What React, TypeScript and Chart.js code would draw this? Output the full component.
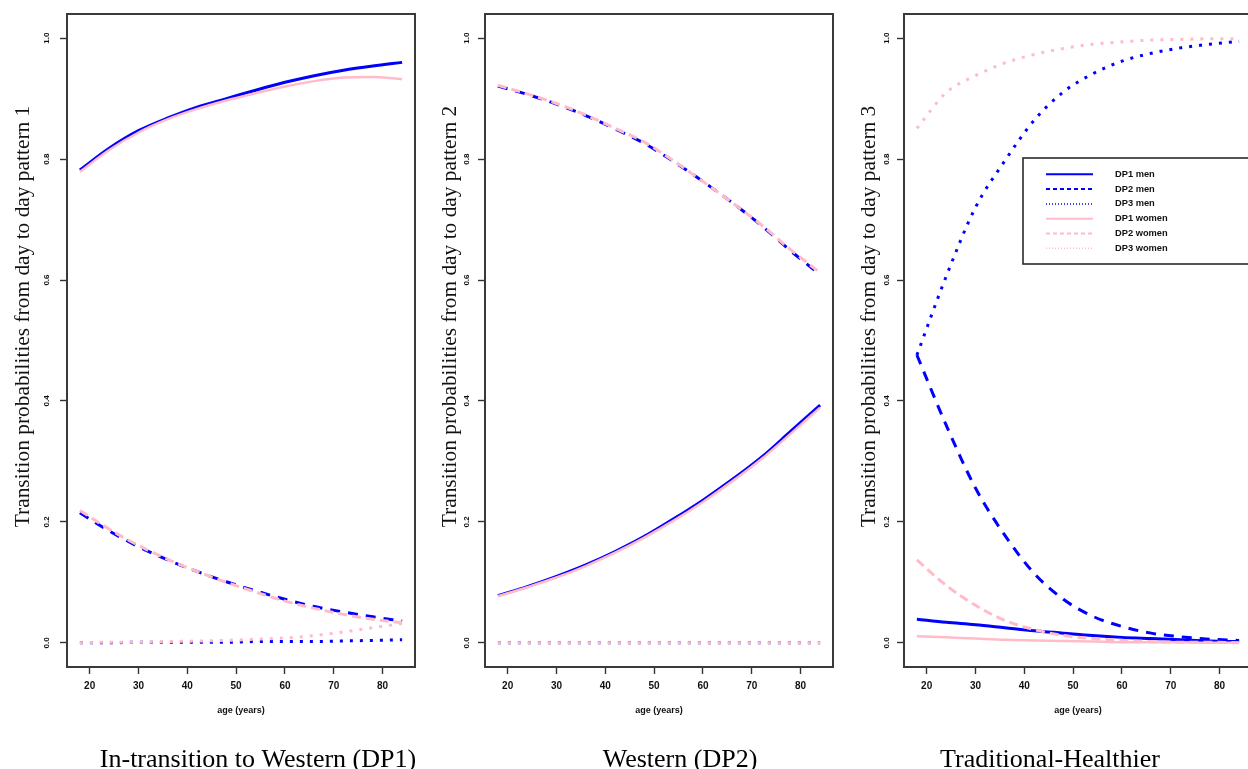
import React, { useEffect, useRef } from "react";
import { Chart, registerables } from "chart.js";

Chart.register(...registerables);

// ---------- data ----------
const ages = [18, 24, 30, 36, 42, 48, 54, 60, 66, 72, 78, 84];
const xTicks = [20, 30, 40, 50, 60, 70, 80];
const yTicks = [0, 0.2, 0.4, 0.6, 0.8, 1.0];
const seriesLabels = ["DP1 men", "DP2 men", "DP3 men", "DP1 women", "DP2 women", "DP3 women"];
const panelTitles = ["In-transition to Western (DP1)", "Western (DP2)", "Traditional-Healthier"];
const yTitles = [
  "Transition probabilities from day to day pattern 1",
  "Transition probabilities from day to day pattern 2",
  "Transition probabilities from day to day pattern 3",
];
const xTitle = "age (years)";

// Panel 1: transitions to day pattern 1
const p1MenDP1 = [0.782, 0.818, 0.847, 0.868, 0.886, 0.9, 0.914, 0.927, 0.938, 0.947, 0.954, 0.96];
const p1MenDP2 = [0.215, 0.185, 0.159, 0.137, 0.118, 0.101, 0.086, 0.072, 0.06, 0.051, 0.043, 0.036];
const p1MenDP3 = [0.0, 0.0, 0.001, 0.001, 0.001, 0.001, 0.002, 0.002, 0.002, 0.003, 0.004, 0.005];
const p1WomenDP1 = [0.779, 0.815, 0.844, 0.866, 0.883, 0.897, 0.909, 0.92, 0.929, 0.935, 0.936, 0.932];
const p1WomenDP2 = [0.219, 0.188, 0.161, 0.138, 0.118, 0.1, 0.084, 0.069, 0.057, 0.047, 0.039, 0.033];
const p1WomenDP3 = [0.0, 0.001, 0.001, 0.002, 0.003, 0.004, 0.006, 0.008, 0.012, 0.018, 0.025, 0.032];

// Panel 2: transitions to day pattern 2
const p2MenDP1 = [0.078, 0.093, 0.11, 0.129, 0.151, 0.176, 0.205, 0.236, 0.27, 0.307, 0.35, 0.393];
const p2MenDP2 = [0.921, 0.907, 0.891, 0.872, 0.85, 0.826, 0.796, 0.763, 0.728, 0.69, 0.648, 0.609];
const p2MenDP3 = [0, 0, 0, 0, 0, 0, 0, 0, 0, 0, 0, 0];
const p2WomenDP1 = [0.077, 0.092, 0.108, 0.127, 0.149, 0.174, 0.202, 0.233, 0.267, 0.304, 0.346, 0.389];
const p2WomenDP2 = [0.922, 0.908, 0.892, 0.873, 0.851, 0.828, 0.797, 0.763, 0.728, 0.691, 0.65, 0.612];
const p2WomenDP3 = [0, 0, 0, 0, 0, 0, 0, 0, 0, 0, 0, 0];

// Panel 3: transitions to day pattern 3
const p3MenDP1 = [0.039, 0.034, 0.03, 0.025, 0.02, 0.016, 0.012, 0.009, 0.007, 0.005, 0.003, 0.002];
const p3MenDP2 = [0.476, 0.36, 0.256, 0.178, 0.115, 0.072, 0.044, 0.027, 0.016, 0.01, 0.006, 0.004];
const p3MenDP3 = [0.476, 0.606, 0.72, 0.797, 0.864, 0.911, 0.941, 0.962, 0.975, 0.984, 0.99, 0.995];
const p3WomenDP1 = [0.011, 0.009, 0.007, 0.005, 0.004, 0.003, 0.002, 0.001, 0.001, 0.001, 0.0, 0.0];
const p3WomenDP2 = [0.137, 0.095, 0.062, 0.037, 0.022, 0.012, 0.007, 0.004, 0.002, 0.001, 0.001, 0.0];
const p3WomenDP3 = [0.851, 0.91, 0.938, 0.959, 0.973, 0.983, 0.99, 0.994, 0.997, 0.998, 0.999, 0.999];

const panelSeries = [
  [p1MenDP1, p1MenDP2, p1MenDP3, p1WomenDP1, p1WomenDP2, p1WomenDP3],
  [p2MenDP1, p2MenDP2, p2MenDP3, p2WomenDP1, p2WomenDP2, p2WomenDP3],
  [p3MenDP1, p3MenDP2, p3MenDP3, p3WomenDP1, p3WomenDP2, p3WomenDP3],
];

// ---------- styles & layout ----------
const BLUE = "#0000ff";
const PINK = "#ffbcc8";
const seriesColors = [BLUE, BLUE, BLUE, PINK, PINK, PINK];
const seriesWidths = [3, 3, 3, 2.5, 3, 3];
const seriesDash = [[], [10, 8], [3, 7], [], [9, 5], [3, 7]];
const legendDash = [[], [4, 3], [1, 2], [], [4, 3], [1, 2]];
const legendWidths = [2, 2, 1.5, 2, 2, 1.5];

const CANVAS_W = 420;
const CANVAS_H = 769;
const AREA_TOP = 14;
const X_AXIS_H = 102;
const layouts = [
  { left: 0, yWidth: 67, padRight: 5, yTitleX: 23, yTickX: 47, titleX: 258 },
  { left: 420, yWidth: 65, padRight: 7, yTitleX: 30, yTickX: 47, titleX: 260 },
  { left: 840, yWidth: 64, padRight: 8, yTitleX: 29, yTickX: 47, titleX: 210 },
];

const SANS = "'Liberation Sans', Arial, sans-serif";
const SERIF = "'Liberation Serif', 'Times New Roman', serif";

function makeDecorPlugin(panel: number) {
  const lay = layouts[panel];
  return {
    id: "decor" + panel,
    afterDraw(chart: any) {
      const { ctx, chartArea, scales } = chart;
      const ys = scales.y;
      ctx.save();
      // box
      ctx.strokeStyle = "#3a3a3a";
      ctx.lineWidth = 2;
      ctx.setLineDash([]);
      ctx.strokeRect(chartArea.left, chartArea.top, chartArea.right - chartArea.left, chartArea.bottom - chartArea.top);

      // y tick labels (rotated, like R)
      ctx.fillStyle = "#111";
      ctx.font = "bold 8px " + SANS;
      ctx.textAlign = "center";
      ctx.textBaseline = "middle";
      yTicks.forEach((v) => {
        const py = ys.getPixelForValue(v);
        ctx.save();
        ctx.translate(lay.yTickX, py);
        ctx.rotate(-Math.PI / 2);
        ctx.fillText(v.toFixed(1), 0, 0);
        ctx.restore();
      });

      // y title
      ctx.save();
      ctx.font = "21.4px " + SERIF;
      ctx.fillStyle = "#111";
      ctx.translate(lay.yTitleX, chartArea.top + 302.5);
      ctx.rotate(-Math.PI / 2);
      ctx.fillText(yTitles[panel], 0, 0);
      ctx.restore();

      // panel caption
      ctx.font = "26px " + SERIF;
      ctx.fillStyle = "#000";
      ctx.textAlign = "center";
      ctx.textBaseline = "alphabetic";
      ctx.fillText(panelTitles[panel], lay.titleX, 767);

      // legend (third panel)
      if (panel === 2) {
        const bx = chartArea.left + 119;
        const by = 158;
        const bh = 106;
        ctx.fillStyle = "#fff";
        ctx.fillRect(bx, by, chart.width + 20 - bx, bh);
        ctx.strokeStyle = "#2a2a2a";
        ctx.lineWidth = 1.6;
        ctx.strokeRect(bx, by, chart.width + 20 - bx, bh);
        ctx.font = "bold 9.3px " + SANS;
        ctx.textAlign = "left";
        ctx.textBaseline = "middle";
        seriesLabels.forEach((lab, i) => {
          const ry = by + 16.3 + i * 14.8;
          ctx.beginPath();
          ctx.strokeStyle = seriesColors[i];
          ctx.lineWidth = legendWidths[i];
          ctx.setLineDash(legendDash[i]);
          ctx.moveTo(bx + 23, ry);
          ctx.lineTo(bx + 70, ry);
          ctx.stroke();
          ctx.setLineDash([]);
          ctx.fillStyle = "#111";
          ctx.fillText(lab, bx + 92, ry);
        });
      }
      ctx.restore();
    },
  };
}

function Panel({ index }: { index: number }) {
  const ref = useRef<HTMLCanvasElement | null>(null);
  useEffect(() => {
    const lay = layouts[index];
    const series = panelSeries[index];
    const datasets = series.map((vals, i) => ({
      label: seriesLabels[i],
      data: ages.map((a, k) => ({ x: a, y: vals[k] })),
      borderColor: seriesColors[i],
      backgroundColor: seriesColors[i],
      borderWidth: seriesWidths[i],
      borderDash: seriesDash[i],
      pointRadius: 0,
      fill: false,
      cubicInterpolationMode: "monotone" as const,
      order: i < 3 ? 1 : 0,
    }));
    const tickGrid = {
      drawOnChartArea: false,
      drawTicks: true,
      tickLength: 7,
      tickColor: "#333",
      tickWidth: 1.4,
    };
    const chart = new Chart(ref.current as HTMLCanvasElement, {
      type: "line",
      data: { datasets },
      options: {
        responsive: false,
        animation: false,
        layout: { padding: { left: 0, right: lay.padRight, top: AREA_TOP, bottom: 0 } },
        plugins: { legend: { display: false }, tooltip: { enabled: false }, title: { display: false } },
        elements: { point: { radius: 0 } },
        scales: {
          x: {
            type: "linear",
            min: 15.36,
            max: 86.64,
            afterFit: (s: any) => {
              s.height = X_AXIS_H;
            },
            afterBuildTicks: (s: any) => {
              s.ticks = xTicks.map((v) => ({ value: v }));
            },
            grid: tickGrid,
            border: { display: false },
            ticks: {
              color: "#111",
              font: { family: SANS, size: 10, weight: "bold" },
              padding: 6,
              maxRotation: 0,
              autoSkip: false,
            },
            title: {
              display: true,
              text: xTitle,
              color: "#111",
              font: { family: SANS, size: 9, weight: "bold" },
              padding: { top: 0, bottom: 53 },
            },
          },
          y: {
            type: "linear",
            min: -0.04,
            max: 1.04,
            afterFit: (s: any) => {
              s.width = lay.yWidth;
            },
            afterBuildTicks: (s: any) => {
              s.ticks = yTicks.map((v) => ({ value: v }));
            },
            grid: tickGrid,
            border: { display: false },
            ticks: { display: false },
            title: { display: false },
          },
        },
      },
      plugins: [makeDecorPlugin(index)],
    } as any);
    return () => chart.destroy();
  }, [index]);
  return (
    <canvas
      ref={ref}
      width={CANVAS_W}
      height={CANVAS_H}
      style={{ position: "absolute", left: layouts[index].left, top: 0, width: CANVAS_W, height: CANVAS_H }}
    />
  );
}

export default function App() {
  return (
    <div
      style={{
        position: "fixed",
        left: 0,
        top: 0,
        width: 1248,
        height: 769,
        overflow: "hidden",
        background: "#fff",
      }}
    >
      {[0, 1, 2].map((i) => (
        <Panel key={i} index={i} />
      ))}
    </div>
  );
}
